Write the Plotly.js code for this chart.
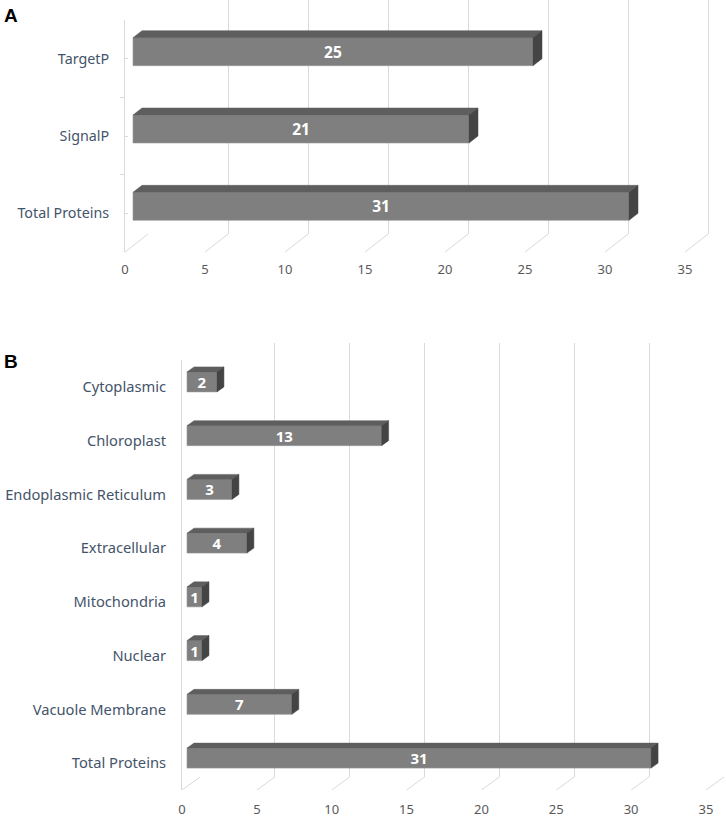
<!DOCTYPE html>
<html>
<head>
<meta charset="utf-8">
<script src="https://cdn.plot.ly/plotly-3.0.1.min.js"></script>
<style>
  html, body { margin: 0; padding: 0; background: #fff; }
  #plot { width: 726px; height: 818px; }
</style>
</head>
<body>
<div id="plot"></div>
<script>
// data, bottom to top as in the chart
var catsA = ['Total Proteins', 'SignalP', 'TargetP'];
var valsA = [31, 21, 25];

var catsB = ['Total Proteins', 'Vacuole Membrane', 'Nuclear', 'Mitochondria',
  'Extracellular', 'Endoplasmic Reticulum', 'Chloroplast', 'Cytoplasmic'];
var valsB = [31, 7, 1, 1, 4, 3, 13, 2];

var xTicks = [0, 5, 10, 15, 20, 25, 30, 35];

var W = 726, H = 818;
function fx(p) { return p / W; }
function fy(p) { return (H - p) / H; }

var tickFont = { family: 'Noto Sans, sans-serif', size: 13, color: '#595959' };
var gridCol = '#d9d9d9';

// panel geometry in pixels (front label plane, bars, back wall)
var panA = {
  x0: 125, k: 16, xmax: 37.5, top: 20, bottom: 252,
  wallX: 148, wallTop: 0, wallBottom: 234, wallMax: 36,
  barStart: 8, barH: 28, lift: 7, dx: 9, dy: 7, textSize: 15.5, labelSize: 14.3
};
var panB = {
  x0: 182, k: 14.97, xmax: 36.3, top: 360, bottom: 790,
  wallX: 200, wallTop: 343, wallBottom: 777, wallMax: 35.05,
  barStart: 5, barH: 20, lift: 5, dx: 7, dy: 5, textSize: 15, labelSize: 14.7
};

function range(n) {
  var r = [];
  for (var i = 0; i < n; i++) r.push(i);
  return r;
}

function buildPanel(p, cats, vals, ax) {
  var n = cats.length;
  var unitY = (p.bottom - p.top) / n;
  var base = p.barStart / p.k;
  var width = p.barH / unitY;
  var offset = p.lift / unitY - width / 2;
  var ddx = p.dx / p.k, ddy = p.dy / unitY;
  var xa = 'x' + ax.main, ya = 'y' + ax.main;

  var traces = [];
  // empty trace so the back wall subplot exists
  traces.push({ type: 'scatter', x: [], y: [], xaxis: 'x' + ax.wall, yaxis: 'y' + ax.wall,
    hoverinfo: 'skip', showlegend: false });

  // floor lines from front plane to back wall
  var fxs = [], fys = [];
  var wdx = (p.wallX - p.x0) / p.k, wdy = (p.bottom - p.wallBottom) / unitY;
  xTicks.forEach(function (t) {
    fxs.push(t, t + wdx, null);
    fys.push(-0.5, -0.5 + wdy, null);
  });
  traces.push({ type: 'scatter', mode: 'lines', x: fxs, y: fys, xaxis: xa, yaxis: ya,
    line: { color: gridCol, width: 1 }, hoverinfo: 'skip', showlegend: false });

  // front faces
  traces.push({
    type: 'bar', orientation: 'h', x: vals, y: range(n), base: base,
    width: width, offset: offset, xaxis: xa, yaxis: ya,
    marker: { color: '#7f7f7f', line: { color: '#989898', width: 0.6 } },
    text: vals.map(String), textposition: 'inside', insidetextanchor: 'middle',
    textangle: 0, constraintext: 'none',
    textfont: { family: 'Noto Sans, sans-serif', size: p.textSize, color: '#ffffff', weight: 'bold' },
    hoverinfo: 'skip', showlegend: false
  });

  // top and side faces
  var tx = [], ty = [], sx = [], sy = [];
  vals.forEach(function (v, i) {
    var y0 = i + offset, y1 = y0 + width, e = base + v;
    tx.push(base, e, e + ddx, base + ddx, base, null);
    ty.push(y1, y1, y1 + ddy, y1 + ddy, y1, null);
    sx.push(e, e + ddx, e + ddx, e, e, null);
    sy.push(y0, y0 + ddy, y1 + ddy, y1, y0, null);
  });
  traces.push({ type: 'scatter', mode: 'lines', x: tx, y: ty, fill: 'toself',
    fillcolor: '#5e5e5e', line: { color: '#5e5e5e', width: 0.5 },
    xaxis: xa, yaxis: ya, hoverinfo: 'skip', showlegend: false });
  traces.push({ type: 'scatter', mode: 'lines', x: sx, y: sy, fill: 'toself',
    fillcolor: '#444444', line: { color: '#444444', width: 0.5 },
    xaxis: xa, yaxis: ya, hoverinfo: 'skip', showlegend: false });
  return traces;
}

function axesFor(p, cats, ax, withTicks) {
  var n = cats.length;
  var out = {};
  out['xaxis' + ax.wall] = {
    domain: [fx(p.wallX), fx(p.wallX + p.wallMax * p.k)], range: [0, p.wallMax],
    anchor: 'y' + ax.wall, tickvals: xTicks, showticklabels: false, ticks: '',
    showgrid: true, gridcolor: gridCol, gridwidth: 1, zeroline: false, showline: false, fixedrange: true
  };
  out['yaxis' + ax.wall] = {
    domain: [fy(p.wallBottom), fy(p.wallTop)], range: [0, 1], anchor: 'x' + ax.wall,
    showgrid: false, showticklabels: false, zeroline: false, showline: false, fixedrange: true
  };
  out['xaxis' + ax.main] = {
    domain: [fx(p.x0), fx(p.x0 + p.xmax * p.k)], range: [0, p.xmax],
    anchor: 'y' + ax.main, tickvals: xTicks, ticks: '', showgrid: false,
    zeroline: false, showline: false, tickfont: tickFont, ticklabelstandoff: ax.xstand, fixedrange: true
  };
  var ya = {
    domain: [fy(p.bottom), fy(p.top)], range: [-0.5, n - 0.5], anchor: 'x' + ax.main,
    tickvals: range(n), ticktext: cats, showgrid: false, zeroline: false,
    showline: true, linecolor: gridCol, linewidth: 1,
    tickfont: { family: 'Noto Sans, sans-serif', size: p.labelSize, color: '#44546a' },
    ticks: '', ticklabelstandoff: ax.ystand, fixedrange: true
  };
  if (withTicks) {
    ya.ticks = 'inside';
    ya.ticklen = 3;
    ya.tickcolor = gridCol;
    ya.minor = { tickvals: range(n + 1).map(function (i) { return i - 0.5; }),
      ticks: 'outside', ticklen: 4, tickcolor: gridCol, showgrid: false };
  }
  out['yaxis' + ax.main] = ya;
  return out;
}

var axA = { wall: '', main: '2', xstand: 8, ystand: 12 };
var axB = { wall: '3', main: '4', xstand: 10, ystand: 12 };

var data = buildPanel(panA, catsA, valsA, axA).concat(buildPanel(panB, catsB, valsB, axB));

var layout = {
  width: W, height: H,
  margin: { l: 0, r: 0, t: 0, b: 0 },
  paper_bgcolor: '#ffffff', plot_bgcolor: 'rgba(0,0,0,0)',
  showlegend: false, barmode: 'overlay',
  annotations: [
    { text: '<b>A</b>', xref: 'paper', yref: 'paper', x: fx(2), y: fy(3), xanchor: 'left', yanchor: 'top',
      showarrow: false, font: { family: 'Liberation Sans, Arial, sans-serif', size: 19, color: '#000' } },
    { text: '<b>B</b>', xref: 'paper', yref: 'paper', x: fx(2), y: fy(349), xanchor: 'left', yanchor: 'top',
      showarrow: false, font: { family: 'Liberation Sans, Arial, sans-serif', size: 19, color: '#000' } }
  ]
};
Object.assign(layout, axesFor(panA, catsA, axA, true), axesFor(panB, catsB, axB, false));

Plotly.newPlot('plot', data, layout, { staticPlot: true, displayModeBar: false });
</script>
</body>
</html>
